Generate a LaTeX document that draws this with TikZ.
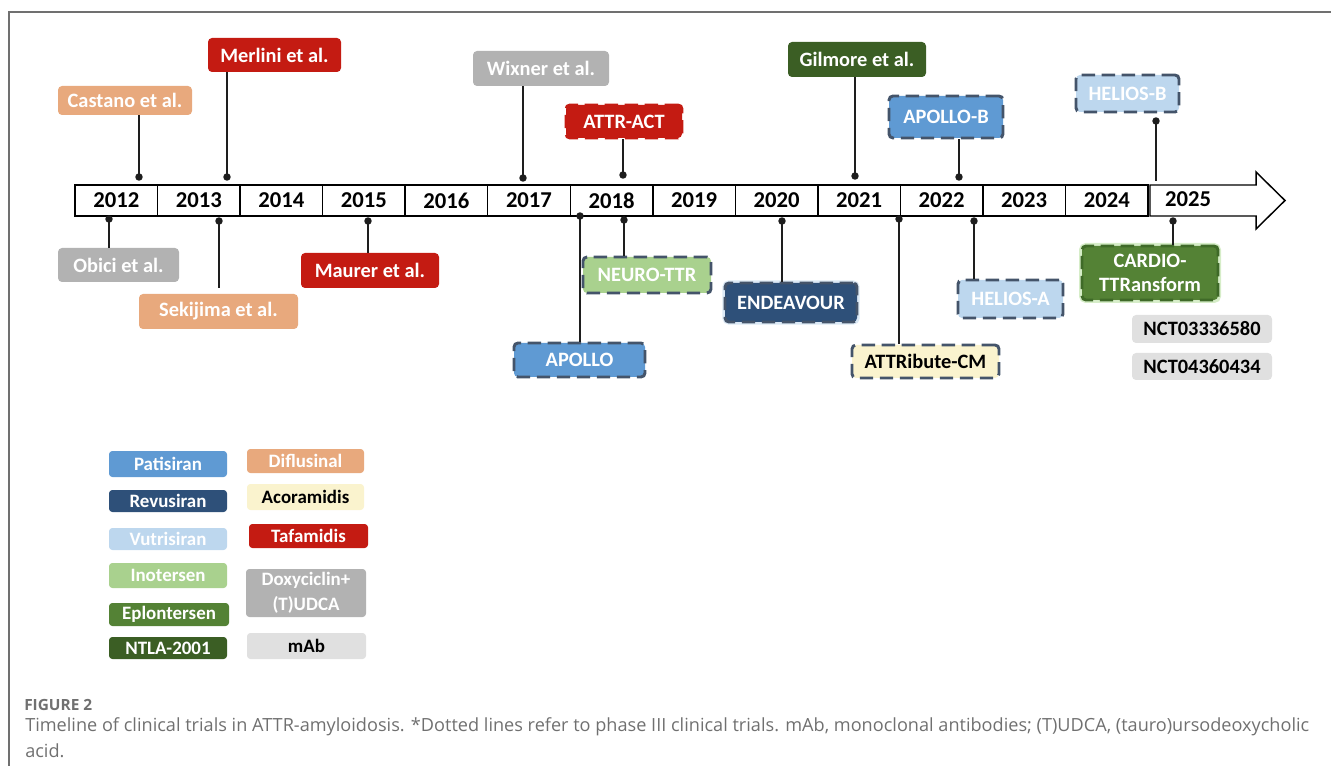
\documentclass[tikz,border=0pt]{standalone}
\usepackage{fontspec}
\setmainfont{Carlito}
\newfontfamily\capfont{Open Sans}
\usetikzlibrary{calc}
\definecolor{cPat}{HTML}{5F9AD3}
\definecolor{cRev}{HTML}{2E5079}
\definecolor{cVut}{HTML}{BDD7EE}
\definecolor{cIno}{HTML}{A9D18E}
\definecolor{cEpl}{HTML}{548235}
\definecolor{cNtl}{HTML}{3B5E24}
\definecolor{cDif}{HTML}{E8A97D}
\definecolor{cAco}{HTML}{FAF3CE}
\definecolor{cTaf}{HTML}{C41B12}
\definecolor{cDox}{HTML}{B2B2B2}
\definecolor{cMab}{HTML}{E0E0E0}
\definecolor{cNavy}{HTML}{44546A}
\definecolor{cPin}{HTML}{1E1E1E}
\definecolor{cFrame}{HTML}{707070}
\definecolor{cCap}{HTML}{707070}
\definecolor{cHaloB}{HTML}{DCE9F5}
\definecolor{cHaloG}{HTML}{D6EDC8}
\definecolor{cEplDark}{HTML}{3F6A28}
\newsavebox\capbox
\newlength\caplen
\newcommand\bx[7]{%
  \pgfmathsetmacro\bxw{(#5-#3)*0.75}%
  \pgfmathsetmacro\bxh{(#6-#4)*0.75}%
  \node[#2, minimum width=\bxw pt, minimum height=\bxh pt] (#1) at ({(#3+#5)/2},{(#4+#6)/2}) {#7};}
\tikzset{
  bx/.style={rounded corners=3pt, inner sep=0pt, align=center,
    font=\bfseries\fontsize{15.3}{18}\selectfont, text=white},
  dsh/.style={draw=cNavy, line width=2.2pt, dash pattern=on 10pt off 5pt},
  pin/.style={line width=1.4pt, draw=cPin},
  dot/.style={fill=cPin},
  cell/.style={draw=black, line width=1.1pt, minimum width=61.9pt, minimum height=23.25pt,
    inner sep=0pt, font=\bfseries\fontsize{17}{18}\selectfont},
  leg/.style={rounded corners=2.5pt, inner sep=0pt, align=center,
    font=\bfseries\fontsize{14.2}{18.5}\selectfont, text=white},
}
\begin{document}
\sbox\capbox{\capfont\fontsize{12pt}{14pt}\selectfont Timeline of clinical trials in ATTR-amyloidosis. *Dotted lines refer to phase III clinical trials. mAb, monoclonal antibodies; (T)UDCA, (tauro)ursodeoxycholic}%
\setlength\caplen{\wd\capbox}%
\pgfmathsetmacro\capsize{12*963/\caplen}%
\begin{tikzpicture}[x=0.75pt, y=-0.75pt]
\useasboundingbox (0,0) rectangle (1331,766);
% frame
\draw[cFrame, line width=1.2pt] (1331,12) -- (9,12) -- (9,766);

% timeline cells
\foreach \yr [count=\i from 0] in {2012,2013,2014,2015,2016,2017,2018,2019,2020,2021,2022,2023,2024}
  \node[cell] (y\yr) at ({75+82.54*(\i+0.5)},200.5) {\yr};
% arrow for 2025
\draw[black, line width=1.1pt, fill=white] (1150,185) -- (1256,185) -- (1256,172) -- (1285,200.5) -- (1256,229) -- (1256,216) -- (1150,216) -- cycle;
\node[font=\bfseries\fontsize{17}{18}\selectfont, inner sep=0pt] (y2025) at (1188,199.5) {2025};

% top boxes
\bx{Castano}{bx, fill=cDif}{58}{86}{192}{115}{Castano et al.}
\bx{Merlini}{bx, fill=cTaf}{208}{38}{341}{72}{Merlini et al.}
\bx{Wixner}{bx, fill=cDox}{473}{51}{609}{86}{Wixner et al.}
\bx{AttrAct}{bx, fill=cTaf, draw=cTaf, line width=2.2pt, dash pattern=on 10pt off 5pt}{566}{105}{682}{138}{ATTR-ACT}
\bx{Gilmore}{bx, fill=cNtl}{788}{42}{926}{77}{Gilmore et al.}
\bx{ApolloB}{bx, fill=cPat, dsh}{889}{96}{1003}{138}{APOLLO-B}
\bx{HeliosB}{bx, fill=cVut, dsh}{1076}{75}{1179}{112}{HELIOS-B}

% bottom boxes
\bx{Obici}{bx, fill=cDox}{58}{248}{179}{282}{Obici et al.}
\bx{Sekijima}{bx, fill=cDif}{139}{294}{298}{329}{Sekijima et al.}
\bx{Maurer}{bx, fill=cTaf}{301}{253}{439}{288}{Maurer et al.}
\bx{Apollo}{bx, fill=cPat, dsh}{514}{343}{645}{377}{APOLLO}
\bx{Neuro}{bx, fill=cIno, dsh}{583}{257}{711}{293}{NEURO-TTR}
\bx{Endeavour}{bx, fill=cRev, dsh, preaction={draw=cHaloB, line width=4pt, solid}}{725}{283}{857}{322}{ENDEAVOUR}
\bx{Attribute}{bx, fill=cAco, dsh, text=black}{852}{345}{999}{378}{ATTRibute-CM}
\bx{HeliosA}{bx, fill=cVut, dsh}{958}{280}{1063}{318}{HELIOS-A}
\bx{Cardio}{bx, fill=cEpl, draw=cEplDark, line width=2.2pt, dash pattern=on 10pt off 5pt, preaction={draw=cHaloG, line width=4.5pt, solid}}{1082}{246}{1218}{300}{CARDIO-\\TTRansform}
\bx{Nct1}{bx, fill=cMab, text=black}{1132}{315}{1272}{343}{NCT03336580}
\bx{Nct2}{bx, fill=cMab, text=black}{1132}{353}{1272}{380}{NCT04360434}

% pins (top)
\coordinate (pCastano) at (139,177);
\coordinate (pMerlini) at (227,177);
\coordinate (pWixner) at (523,178);
\coordinate (pAttrAct) at (623,175);
\coordinate (pGilmore) at (855,176);
\coordinate (pApolloB) at (959,177);
\coordinate (pHeliosB) at (1156,121);
\coordinate (eHeliosB) at (1156,181);
\foreach \n in {Castano,Merlini,Wixner,AttrAct,Gilmore,ApolloB}{
  \draw[pin] (p\n) -- (p\n |- \n.south);
  \fill[dot] (p\n) circle[radius=2.8pt];
}
\draw[pin] (pHeliosB) -- (eHeliosB);
\fill[dot] (pHeliosB) circle[radius=2.8pt];

% pins (bottom)
\coordinate (pObici) at (109,219);
\coordinate (pSekijima) at (219,221);
\coordinate (pMaurer) at (368,221);
\coordinate (pApollo) at (580,216);
\coordinate (pNeuro) at (624,220);
\coordinate (pEndeavour) at (782,221);
\coordinate (pAttribute) at (899,219);
\coordinate (pHeliosA) at (974,221);
\coordinate (pCardio) at (1173,221);
\foreach \n in {Obici,Maurer,Apollo,Neuro,Endeavour,Attribute,HeliosA,Cardio}{
  \draw[pin] (p\n) -- (p\n |- \n.north);
  \fill[dot] (p\n) circle[radius=2.8pt];
}
\draw[pin, shorten >=4.5pt] (pSekijima) -- (pSekijima |- Sekijima.north);
\fill[dot] (pSekijima) circle[radius=2.8pt];

% legend
\bx{lPat}{leg, fill=cPat}{109}{451}{227}{477}{Patisiran}
\bx{lRev}{leg, fill=cRev}{109}{490}{227}{512}{Revusiran}
\bx{lVut}{leg, fill=cVut}{109}{528}{227}{550}{Vutrisiran}
\bx{lIno}{leg, fill=cIno}{109}{563}{227}{588}{Inotersen}
\bx{lEpl}{leg, fill=cEpl}{109}{603}{229}{626}{Eplontersen}
\bx{lNtl}{leg, fill=cNtl}{109}{637}{227}{659}{NTLA-2001}
\bx{lDif}{leg, fill=cDif}{247}{449}{364}{473}{Diflusinal}
\bx{lAco}{leg, fill=cAco, text=black}{247}{484}{364}{510}{Acoramidis}
\bx{lTaf}{leg, fill=cTaf}{249}{524}{368}{548}{Tafamidis}
\bx{lDox}{leg, fill=cDox}{246}{569}{366}{617}{Doxyciclin+\\(T)UDCA}
\bx{lMab}{leg, fill=cMab, text=black}{247}{633}{366}{659}{mAb}

% caption
\node[anchor=base west, inner sep=0pt, text=cCap] (figlab) at (24,710)
  {\resizebox{51pt}{!}{\capfont\bfseries FIGURE 2}};
\node[anchor=base west, inner sep=0pt, text=cCap] (cap1) at (25,731)
  {\capfont\fontsize{\capsize pt}{\capsize pt}\selectfont Timeline of clinical trials in ATTR-amyloidosis. *Dotted lines refer to phase III clinical trials. mAb, monoclonal antibodies; (T)UDCA, (tauro)ursodeoxycholic};
\node[anchor=base west, inner sep=0pt, text=cCap] (cap2) at (25,757)
  {\capfont\fontsize{\capsize pt}{\capsize pt}\selectfont acid.};
\end{tikzpicture}
\end{document}
